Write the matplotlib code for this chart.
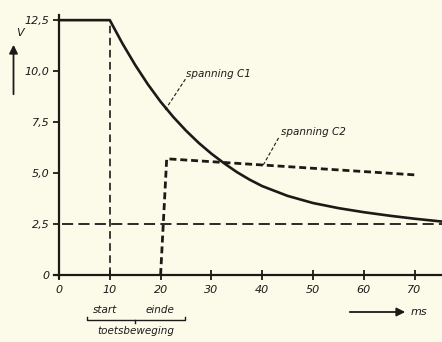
import matplotlib
matplotlib.use("Agg")
import matplotlib.pyplot as plt

plt.rcParams["lines.scale_dashes"] = False
plt.rcParams["font.family"] = ["DejaVu Sans"]

# Voltage across C1 (solid curve), ms / V
c1_t = [0, 10, 12.5, 15, 17.5, 20, 22.5, 25, 27.5, 30, 32.5, 35, 37.5, 40,
        45, 50, 55, 60, 65, 70, 75.4]
c1_v = [12.5, 12.5, 11.35, 10.3, 9.35, 8.5, 7.75, 7.08, 6.48, 5.95, 5.48,
        5.05, 4.68, 4.36, 3.88, 3.53, 3.28, 3.08, 2.91, 2.76, 2.62]

# Voltage across C2 (dashed)
c2_t = [20, 21.2, 70.7]
c2_v = [0, 5.7, 4.9]

# Threshold level and key-stroke markers
threshold_v = 2.5
key_start_t = 10
key_end_t = 20

x_ticks = [0, 10, 20, 30, 40, 50, 60, 70]
x_ticklabels = ["0", "10", "20", "30", "40", "50", "60", "70"]
y_ticks = [0, 2.5, 5.0, 7.5, 10.0, 12.5]
y_ticklabels = ["0", "2,5", "5,0", "7,5", "10,0", "12,5"]

ink = "#1c1a17"
paper = "#fcfbea"

fig = plt.figure(figsize=(4.42, 3.42), dpi=100, facecolor=paper)
ax = fig.add_axes([0.122, 0.187, 0.878, 0.769])
ax.set_facecolor(paper)
ax.set_xlim(-1.0, 75.4)
ax.set_ylim(-0.15, 12.75)

# Reference lines
ax.plot([0.6, 75.4], [threshold_v, threshold_v], color=ink, lw=1.3,
        dashes=(8, 3.8))
ax.plot([key_start_t, key_start_t], [0, c1_v[1]], color=ink, lw=1.2,
        dashes=(5.5, 3.2))

# Curves
ax.plot(c1_t, c1_v, color=ink, lw=1.9, solid_joinstyle="round")
ax.plot(c2_t, c2_v, color=ink, lw=2.0, dashes=(5, 2.8))

# Labels with dashed leader lines
ax.plot([20.9, 25.0], [8.1, 9.65], color=ink, lw=0.8, dashes=(2.5, 1.5))
ax.text(25.1, 9.85, "spanning C1", fontsize=7.5, style="italic",
        color=ink, va="center", ha="left")
ax.plot([40.2, 43.4], [5.39, 6.8], color=ink, lw=0.8, dashes=(2.5, 1.5))
ax.text(43.8, 7.0, "spanning C2", fontsize=7.5, style="italic",
        color=ink, va="center", ha="left")

# Axes styling
for side in ("top", "right"):
    ax.spines[side].set_visible(False)
ax.spines["left"].set_position(("data", 0))
ax.spines["bottom"].set_position(("data", 0))
for side in ("left", "bottom"):
    ax.spines[side].set_linewidth(1.6)
    ax.spines[side].set_color(ink)

ax.set_xticks(x_ticks)
ax.set_xticklabels(x_ticklabels, style="italic", fontsize=8, color=ink)
ax.set_yticks(y_ticks)
ax.set_yticklabels(y_ticklabels, style="italic", fontsize=8, color=ink)
ax.tick_params(axis="x", direction="inout", length=7, width=1.3,
               color=ink, pad=4)
ax.tick_params(axis="y", direction="out", length=4, width=1.3,
               color=ink, pad=3)

# Axis names with arrows
fig.text(20 / 442, 1 - 33 / 342, "V", fontsize=8, style="italic",
         color=ink, ha="center", va="center")
fig.add_artist(matplotlib.patches.FancyArrowPatch(
    (13.5 / 442, 1 - 97 / 342), (13.5 / 442, 1 - 42 / 342),
    transform=fig.transFigure, arrowstyle="-|>,head_length=5,head_width=2.5",
    color=ink, lw=1.3))
fig.add_artist(matplotlib.patches.FancyArrowPatch(
    (347 / 442, 1 - 312 / 342), (408 / 442, 1 - 312 / 342),
    transform=fig.transFigure, arrowstyle="-|>,head_length=5,head_width=2.5",
    color=ink, lw=1.3))
fig.text(411 / 442, 1 - 312 / 342, "ms", fontsize=8, style="italic",
         color=ink, ha="left", va="center")

# Key-stroke bracket under the time axis
fig.text(105 / 442, 1 - 310 / 342, "start", fontsize=7.5, style="italic",
         color=ink, ha="center", va="center")
fig.text(160 / 442, 1 - 310 / 342, "einde", fontsize=7.5, style="italic",
         color=ink, ha="center", va="center")
yb = 1 - 320 / 342
fig.add_artist(matplotlib.lines.Line2D(
    [86.7 / 442, 86.7 / 442, 185 / 442, 185 / 442],
    [yb + 0.008, yb, yb, yb + 0.008], transform=fig.transFigure,
    color=ink, lw=1.0))
fig.add_artist(matplotlib.lines.Line2D(
    [135 / 442, 135 / 442], [yb, yb - 0.008], transform=fig.transFigure,
    color=ink, lw=1.0))
fig.text(136 / 442, 1 - 331 / 342, "toetsbeweging", fontsize=7.5,
         style="italic", color=ink, ha="center", va="center")

fig.savefig("out.png", dpi=100, facecolor=paper)
